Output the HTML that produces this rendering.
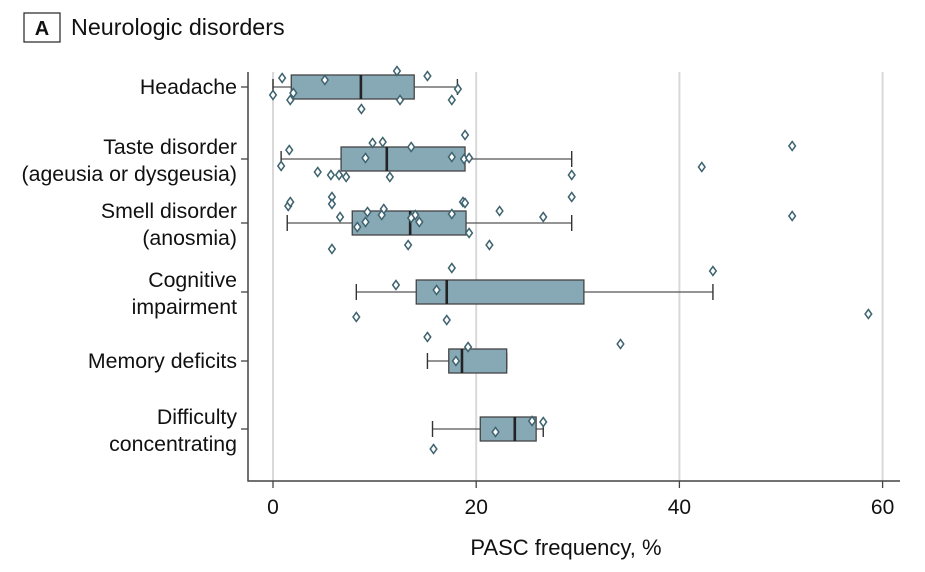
<!DOCTYPE html>
<html><head><meta charset="utf-8"><style>
body{margin:0;background:#fff;}
svg{display:block;font-family:"Liberation Sans",sans-serif;}
</style></head><body>
<svg width="925" height="572" viewBox="0 0 925 572">
<rect x="24" y="13" width="36" height="29" fill="#fff" stroke="#222" stroke-width="1.2"/>
<text x="42" y="35" font-size="20" font-weight="bold" text-anchor="middle" fill="#111">A</text>
<text x="71" y="35" font-size="23.3" fill="#111">Neurologic disorders</text>
<g id="grid"></g>
<g id="axes"></g>
<g id="boxes"></g>
<g id="pts"></g>
<text x="566" y="555" font-size="22" text-anchor="middle" fill="#111">PASC frequency, %</text>
</svg>
<script>
const categories=[["Headache"],["Taste disorder","(ageusia or dysgeusia)"],["Smell disorder","(anosmia)"],["Cognitive","impairment"],["Memory deficits"],["Difficulty","concentrating"]];
const whiskerLow=[0,0.8,1.4,8.2,15.2,15.7];
const q1=[1.8,6.7,7.8,14.1,17.3,20.4];
const median=[8.65,11.2,13.5,17.1,18.6,23.8];
const q3=[13.9,18.9,19.0,30.6,23.0,25.9];
const whiskerHigh=[18.15,29.4,29.4,43.3,23.0,26.6];
const pointValues=[
[0.9,5.1,12.2,15.2,18.2,0,2,1.7,12.5,17.6,8.7],
[1.6,9.8,10.8,13.6,18.9,9.1,17.6,18.8,19.3,0.8,4.4,5.7,6.5,7.2,11.5,29.4,42.2,51.1],
[1.5,1.7,5.8,5.8,6.6,9.3,10.9,10.7,14.0,9.1,8.3,13.6,14.4,17.6,18.7,18.9,22.3,26.6,29.4,19.3,13.3,21.3,5.8,51.1],
[12.1,17.6,16.1,8.2,17.1,43.3,58.6],
[15.2,19.2,18.0,34.2],
[21.9,25.5,26.6,15.8]];
const pointJitter=[
[-9,-7,-16,-11,2,8,6,13,13,13,22],
[-9,-16,-17,-12,-24,-1,-2,0,-1,7,13,16,16,18,18,16,8,-13],
[-17,-21,-26,-19,-6,-11,-14,-8,-8,-1,4,-5,-1,-9,-21,-20,-12,-6,-26,10,22,22,26,-7],
[-7,-24,-2,25,28,-21,22],
[-24,-14,0,-17],
[3,-8,-7,20]];
const xTicks=[0,20,40,60];
const rowY=[87,159,223,292,361,429];
const X=v=>273+v*10.16;
const NS="http://www.w3.org/2000/svg";
function mk(p,t,a){const e=document.createElementNS(NS,t);for(const k in a)e.setAttribute(k,a[k]);p.appendChild(e);return e;}
const grid=document.getElementById('grid'),axes=document.getElementById('axes'),boxes=document.getElementById('boxes'),pts=document.getElementById('pts');
xTicks.forEach(t=>{
 const g=mk(grid,'line',{x1:X(t),x2:X(t),y1:72,y2:481,stroke:'#d9d9d9','stroke-width':2});
 
 
 const tk=mk(axes,'line',{x1:X(t),x2:X(t),y1:481,y2:488,stroke:'#444','stroke-width':1.3});
 
 
 const tl=mk(axes,'text',{x:X(t),y:514,'font-size':21,'text-anchor':'middle',fill:'#111'});
 tl.textContent=t;
 
 
});
const ya=mk(axes,'line',{x1:248,x2:248,y1:72,y2:481.5,stroke:'#444','stroke-width':1.5});


const xa=mk(axes,'line',{x1:247.5,x2:900,y1:481,y2:481,stroke:'#444','stroke-width':1.5});


categories.forEach((c,i)=>{
 const y=rowY[i];
 const tk=mk(axes,'line',{x1:241,x2:248,y1:y,y2:y,stroke:'#444','stroke-width':1.3});
 
 
 const t=mk(axes,'text',{x:237,'font-size':21.3,'text-anchor':'end',fill:'#111'});
 
 
 const y0=c.length===1?y+7:y-5;
 c.forEach((s,j)=>{const ts=mk(t,'tspan',{x:237,y:y0+j*27});ts.textContent=s;});
 const g=mk(boxes,'g',{});
 
 
 mk(g,'line',{x1:X(whiskerLow[i]),x2:X(whiskerHigh[i]),y1:y,y2:y,stroke:'#555','stroke-width':1.3});
 mk(g,'line',{x1:X(whiskerLow[i]),x2:X(whiskerLow[i]),y1:y-8,y2:y+8,stroke:'#333','stroke-width':1.4});
 mk(g,'line',{x1:X(whiskerHigh[i]),x2:X(whiskerHigh[i]),y1:y-8,y2:y+8,stroke:'#333','stroke-width':1.4});
 mk(g,'rect',{x:X(q1[i]),y:y-12,width:X(q3[i])-X(q1[i]),height:24,fill:'#87a9b6',stroke:'#444','stroke-width':1.3});
 mk(g,'line',{x1:X(median[i]),x2:X(median[i]),y1:y-12,y2:y+12,stroke:'#222','stroke-width':2.6});
 pointValues[i].forEach((v,k)=>{
  const py=y+pointJitter[i][k],px=X(v);
  const d=mk(pts,'path',{d:`M${px} ${py-4.5}L${px+3.3} ${py}L${px} ${py+4.5}L${px-3.3} ${py}Z`,fill:'#fff',stroke:'#3f6470','stroke-width':1.5});
  
  
 });
});
</script>
</body></html>
